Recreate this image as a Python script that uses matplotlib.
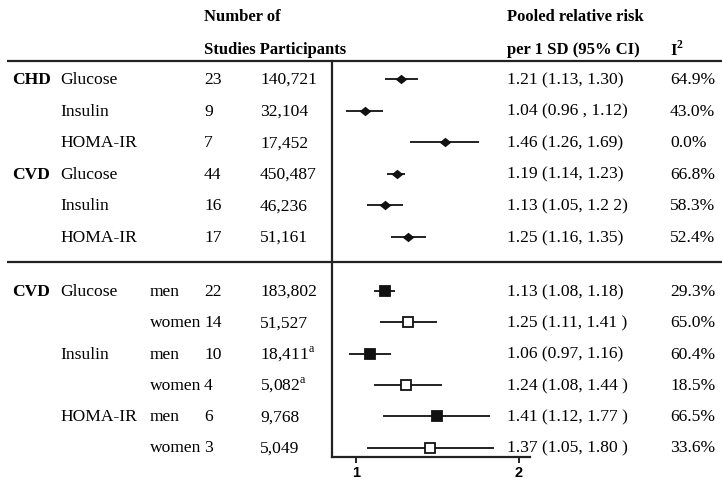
import numpy as np
import matplotlib
matplotlib.use("Agg")
import matplotlib.pyplot as plt

plt.rcParams['font.family'] = ['Liberation Serif', 'DejaVu Serif']
plt.rcParams['mathtext.fontset'] = 'custom'
plt.rcParams['mathtext.rm'] = 'Liberation Serif'
plt.rcParams['mathtext.bf'] = 'Liberation Serif:bold'

# ── Data ─────────────────────────────────────────────────────────────────────
top_group = ['CHD', '', '', 'CVD', '', '']
top_marker = ['Glucose', 'Insulin', 'HOMA-IR', 'Glucose', 'Insulin', 'HOMA-IR']
top_studies = ['23', '9', '7', '44', '16', '17']
top_participants = ['140,721', '32,104', '17,452', '450,487', '46,236', '51,161']
top_rr = [1.21, 1.04, 1.46, 1.19, 1.13, 1.25]
top_lo = [1.13, 0.96, 1.26, 1.14, 1.05, 1.16]
top_hi = [1.30, 1.12, 1.69, 1.23, 1.22, 1.35]
top_rr_text = ['1.21 (1.13, 1.30)', '1.04 (0.96 , 1.12)', '1.46 (1.26, 1.69)',
               '1.19 (1.14, 1.23)', '1.13 (1.05, 1.2 2)', '1.25 (1.16, 1.35)']
top_i2 = ['64.9%', '43.0%', '0.0%', '66.8%', '58.3%', '52.4%']

bot_group = ['CVD', '', '', '', '', '']
bot_marker = ['Glucose', '', 'Insulin', '', 'HOMA-IR', '']
bot_sex = ['men', 'women', 'men', 'women', 'men', 'women']
bot_studies = ['22', '14', '10', '4', '6', '3']
bot_participants = ['183,802', '51,527', r'18,411$^{\mathrm{a}}$', r'5,082$^{\mathrm{a}}$',
                    '9,768', '5,049']
bot_rr = [1.13, 1.25, 1.06, 1.24, 1.41, 1.37]
bot_lo = [1.08, 1.11, 0.97, 1.08, 1.12, 1.05]
bot_hi = [1.18, 1.41, 1.16, 1.44, 1.77, 1.80]
bot_rr_text = ['1.13 (1.08, 1.18)', '1.25 (1.11, 1.41 )', '1.06 (0.97, 1.16)',
               '1.24 (1.08, 1.44 )', '1.41 (1.12, 1.77 )', '1.37 (1.05, 1.80 )']
bot_i2 = ['29.3%', '65.0%', '60.4%', '18.5%', '66.5%', '33.6%']

xticks = [1, 2]

# ── Layout (pixel coordinates, y downward) ───────────────────────────────────
W, H = 722, 485
top_y = 80 + 31.6 * np.arange(len(top_rr))
bot_y = 292 + 31.3 * np.arange(len(bot_rr))
col_group, col_marker, col_sex, col_n, col_part = 12, 60, 150, 204, 260
col_rr, col_i2 = 507, 670
fs = 12.6

fig = plt.figure(figsize=(W / 100, H / 100), dpi=100)
bg = fig.add_axes([0, 0, 1, 1])
bg.set_xlim(0, W)
bg.set_ylim(H, 0)
bg.axis('off')

# header
bold = dict(fontsize=12, fontweight='bold', va='center', ha='left')
bg.text(col_n, 17, 'Number of', **bold)
bg.text(col_n, 50, 'Studies Participants', **bold)
bg.text(col_rr, 17, 'Pooled relative risk', **bold)
bg.text(col_rr, 50, 'per 1 SD (95% CI)', **bold)
bg.text(col_i2, 50, r'I$^{\mathbf{2}}$', **bold)

bg.plot([7, W], [62, 62], color='#222222', lw=1.6, solid_capstyle='butt')
bg.plot([7, W], [263, 263], color='#222222', lw=1.6, solid_capstyle='butt')

gbold = dict(bold, fontsize=fs)
norm = dict(fontsize=fs, va='center', ha='left')
for i, y in enumerate(top_y):
    if top_group[i]:
        bg.text(col_group, y, top_group[i], **gbold)
    bg.text(col_marker, y, top_marker[i], **norm)
    bg.text(col_n, y, top_studies[i], **norm)
    bg.text(col_part, y, top_participants[i], **norm)
    bg.text(col_rr, y, top_rr_text[i], **norm)
    bg.text(col_i2, y, top_i2[i], **norm)

for i, y in enumerate(bot_y):
    if bot_group[i]:
        bg.text(col_group, y, bot_group[i], **gbold)
    if bot_marker[i]:
        bg.text(col_marker, y, bot_marker[i], **norm)
    bg.text(col_sex, y, bot_sex[i], **norm)
    bg.text(col_n, y, bot_studies[i], **norm)
    bg.text(col_part, y, bot_participants[i], **norm)
    bg.text(col_rr, y, bot_rr_text[i], **norm)
    bg.text(col_i2, y, bot_i2[i], **norm)

# ── Forest panel ─────────────────────────────────────────────────────────────
x_left, x_right, y_top, y_bot = 332, 530, 62, 458
ax = fig.add_axes([x_left / W, (H - y_bot) / H, (x_right - x_left) / W, (y_bot - y_top) / H])
ax.patch.set_alpha(0)
ax.set_xscale('log')
ax.set_xlim(0.9027, 2.1003)
ax.set_ylim(y_bot, y_top)

diamond = [(-1, 0), (0, 0.8), (1, 0), (0, -0.8), (-1, 0)]
for y, r, lo, hi in zip(top_y, top_rr, top_lo, top_hi):
    ax.plot([lo, hi], [y, y], color='#111111', lw=1.3, solid_capstyle='butt')
    ax.plot(r, y, marker=diamond, ms=8.5, color='#111111', mew=0)

for i, (y, r, lo, hi) in enumerate(zip(bot_y, bot_rr, bot_lo, bot_hi)):
    ax.plot([lo, hi], [y, y], color='#111111', lw=1.3, solid_capstyle='butt')
    face = '#111111' if bot_sex[i] == 'men' else 'white'
    ax.plot(r, y, marker='s', ms=6.8, mfc=face, mec='#111111', mew=1.3)

ax.spines['top'].set_visible(False)
ax.spines['right'].set_visible(False)
for s in ('left', 'bottom'):
    ax.spines[s].set_linewidth(1.6)
    ax.spines[s].set_color('#222222')
ax.set_yticks([])
ax.set_xticks(xticks)
ax.set_xticklabels([str(t) for t in xticks])
ax.xaxis.set_minor_locator(matplotlib.ticker.NullLocator())
ax.tick_params(axis='x', direction='out', length=4, width=1.4, color='#222222', pad=1.5)
for lab in ax.get_xticklabels():
    lab.set_fontfamily('Liberation Sans')
    lab.set_fontweight('bold')
    lab.set_fontsize(10.5)

fig.savefig('out.png', dpi=100)
